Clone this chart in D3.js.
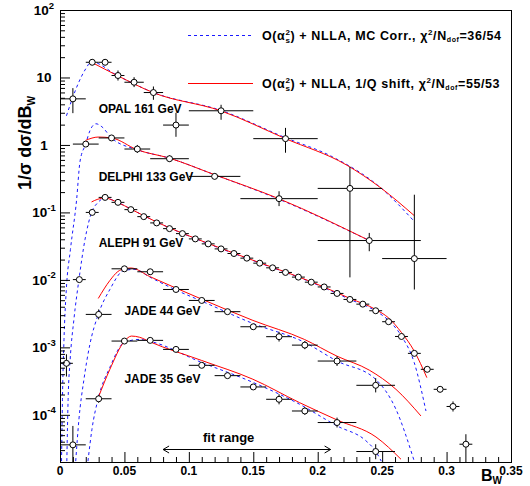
<!DOCTYPE html>
<html>
<head>
<meta charset="utf-8">
<script src="https://cdn.jsdelivr.net/npm/d3@7"></script>
<style>
  body { margin: 0; background: #fff; }
  svg text { font-family: 'Liberation Sans', Arial, sans-serif; font-weight: bold; fill: #000; }
</style>
</head>
<body>
<script>
// measured points: [B_W, 1/sigma dsigma/dB_W, bin low, bin high, err low, err high]
const opal161 = [
  [0.01, 4.82, 0, 0.02, 2.96, 6.95],
  [0.025, 16.8, 0.02, 0.03, 15.2, 18.6],
  [0.035, 16.8, 0.03, 0.04, 15.2, 18.6],
  [0.045, 10.7, 0.04, 0.05, 9.0, 12.7],
  [0.0575, 8.5, 0.05, 0.065, 7.2, 10.1],
  [0.0725, 5.98, 0.065, 0.08, 4.67, 7.35],
  [0.09, 1.97, 0.08, 0.1, 1.32, 2.99],
  [0.125, 3.21, 0.1, 0.15, 2.36, 3.94],
  [0.175, 1.24, 0.15, 0.2, 0.767, 1.79],
  [0.225, 0.227, 0.2, 0.25, 0.0109, 0.476],
  [0.275, 0.0207, 0.25, 0.3, 0.0072, 0.183],
];

const delphi133 = [
  [0.02, 1.03, 0.01, 0.03, 0.95, 1.12],
  [0.04, 1.27, 0.03, 0.05, 1.18, 1.37],
  [0.06, 0.87, 0.05, 0.07, 0.76, 1.0],
  [0.085, 0.625, 0.07, 0.1, 0.56, 0.7],
  [0.12, 0.342, 0.1, 0.14, 0.31, 0.38],
  [0.17, 0.16, 0.14, 0.2, 0.124, 0.206],
  [0.24, 0.0383, 0.2, 0.28, 0.0266, 0.0497],
];

const aleph91 = [
  [0.005, 5.8e-4, 0, 0.01, 3.7e-4, 7.9e-4],
  [0.015, 0.0101, 0.01, 0.02, 0.0093, 0.011],
  [0.025, 0.1, 0.02, 0.03, 0.096, 0.104],
  [0.035, 0.167, 0.03, 0.04, 0.162, 0.172],
  [0.045, 0.141, 0.04, 0.05, 0.137, 0.145],
  [0.055, 0.11, 0.05, 0.06, 0.107, 0.113],
  [0.065, 0.0866, 0.06, 0.07, 0.084, 0.089],
  [0.075, 0.0699, 0.07, 0.08, 0.0678, 0.072],
  [0.085, 0.0575, 0.08, 0.09, 0.0558, 0.0592],
  [0.095, 0.0485, 0.09, 0.1, 0.047, 0.05],
  [0.105, 0.0405, 0.1, 0.11, 0.0393, 0.0417],
  [0.115, 0.0342, 0.11, 0.12, 0.0332, 0.0352],
  [0.125, 0.0288, 0.12, 0.13, 0.0279, 0.0297],
  [0.135, 0.0246, 0.13, 0.14, 0.0239, 0.0253],
  [0.145, 0.021, 0.14, 0.15, 0.0204, 0.0216],
  [0.155, 0.0177, 0.15, 0.16, 0.0172, 0.0182],
  [0.165, 0.0151, 0.16, 0.17, 0.0146, 0.0156],
  [0.175, 0.0129, 0.17, 0.18, 0.0125, 0.0133],
  [0.185, 0.011, 0.18, 0.19, 0.0107, 0.0113],
  [0.195, 0.00925, 0.19, 0.2, 0.00897, 0.00953],
  [0.205, 0.00786, 0.2, 0.21, 0.00762, 0.0081],
  [0.215, 0.0063, 0.21, 0.22, 0.0061, 0.0065],
  [0.225, 0.00513, 0.22, 0.23, 0.00497, 0.00529],
  [0.235, 0.00437, 0.23, 0.24, 0.00424, 0.0045],
  [0.245, 0.00349, 0.24, 0.25, 0.00338, 0.0036],
  [0.255, 0.0024, 0.25, 0.26, 0.00231, 0.00249],
  [0.265, 0.00145, 0.26, 0.27, 0.00139, 0.00151],
  [0.275, 8.15e-4, 0.27, 0.28, 7.7e-4, 8.6e-4],
  [0.285, 4.73e-4, 0.28, 0.29, 4.3e-4, 5.2e-4],
  [0.295, 2.39e-4, 0.29, 0.3, 2.15e-4, 2.65e-4],
  [0.305, 1.33e-4, 0.3, 0.31, 1.12e-4, 1.58e-4],
  [0.315, 3.67e-5, 0.31, 0.32, 1.5e-5, 5.16e-5],
];

const jade44 = [
  [0.03, 3.08e-3, 0.02, 0.04, 2.6e-3, 3.65e-3],
  [0.05, 0.0146, 0.04, 0.06, 0.0138, 0.0155],
  [0.07, 0.0132, 0.06, 0.08, 0.0125, 0.014],
  [0.09, 7.21e-3, 0.08, 0.1, 6.8e-3, 7.65e-3],
  [0.11, 4.96e-3, 0.1, 0.12, 4.68e-3, 5.26e-3],
  [0.13, 3.38e-3, 0.12, 0.14, 3.19e-3, 3.58e-3],
  [0.15, 2.02e-3, 0.14, 0.16, 1.9e-3, 2.15e-3],
  [0.17, 1.44e-3, 0.16, 0.18, 1.22e-3, 1.7e-3],
  [0.19, 1.08e-3, 0.18, 0.2, 9.4e-4, 1.24e-3],
  [0.215, 6.27e-4, 0.2, 0.23, 5.3e-4, 7.4e-4],
  [0.245, 2.74e-4, 0.23, 0.26, 2.15e-4, 3.5e-4],
];

const jade35 = [
  [0.01, 3.59e-5, 0, 0.02, 1.0e-5, 6.85e-5],
  [0.03, 1.73e-4, 0.02, 0.04, 1.51e-4, 1.98e-4],
  [0.05, 1.24e-3, 0.04, 0.06, 1.17e-3, 1.32e-3],
  [0.07, 1.27e-3, 0.06, 0.08, 1.2e-3, 1.35e-3],
  [0.09, 9.33e-4, 0.08, 0.1, 8.8e-4, 9.9e-4],
  [0.11, 5.42e-4, 0.1, 0.12, 5.1e-4, 5.75e-4],
  [0.13, 3.81e-4, 0.12, 0.14, 3.55e-4, 4.1e-4],
  [0.15, 2.59e-4, 0.14, 0.16, 2.4e-4, 2.8e-4],
  [0.17, 1.7e-4, 0.16, 0.18, 1.43e-4, 2.02e-4],
  [0.19, 1.14e-4, 0.18, 0.2, 1.0e-4, 1.3e-4],
  [0.215, 7.69e-5, 0.2, 0.23, 6.5e-5, 9.1e-5],
  [0.245, 2.86e-5, 0.23, 0.26, 2.2e-5, 3.67e-5],
];

// theory curves: [B_W, value]
// O(as^2)+NLLA with MC hadronisation correction (blue dashed)
const opalMC = [[0.005, 2.7], [0.0095, 4.82], [0.0147, 8.61], [0.0194, 12.9], [0.0245, 17.0], [0.0444, 10.7], [0.0722, 6.02], [0.1247, 3.26], [0.175, 1.28], [0.2114, 0.668], [0.2491, 0.23], [0.2749, 0.0738]];
const delphiMC = [[0.0012, 2.06e-5], [0.0019, 1.7e-4], [0.0031, 1.31e-3], [0.0049, 7.21e-3], [0.0081, 0.0282], [0.0129, 0.155], [0.0155, 0.564], [0.0199, 1.03], [0.0232, 1.62], [0.0279, 2.06], [0.0325, 1.86], [0.04, 1.27], [0.0599, 0.849], [0.0846, 0.64], [0.12, 0.362], [0.1698, 0.157], [0.24, 0.0383]];
const alephMC = [[0.0053, 2.06e-5], [0.0063, 1.7e-4], [0.0079, 6.64e-4], [0.0108, 2.6e-3], [0.0147, 0.0101], [0.0194, 0.0396], [0.0245, 0.1], [0.0294, 0.14], [0.0348, 0.163], [0.0447, 0.141], [0.055, 0.112], [0.0751, 0.0719], [0.1148, 0.0345], [0.1549, 0.0178], [0.1954, 0.00916], [0.2251, 0.00513], [0.2449, 0.00347], [0.255, 0.00251], [0.2651, 0.00146], [0.2749, 5.94e-4], [0.284, 1.14e-4]];
const jade44MC = [[0.0122, 2.06e-5], [0.0147, 8.61e-5], [0.0186, 3.37e-4], [0.0232, 1.11e-3], [0.0297, 3.08e-3], [0.0387, 7.21e-3], [0.0496, 0.0138], [0.0581, 0.0143], [0.0697, 0.011], [0.0898, 7.1e-3], [0.1097, 4.87e-3], [0.1497, 2.26e-3], [0.1897, 1.19e-3], [0.215, 6.27e-4], [0.2449, 3.37e-4], [0.2607, 1.21e-4], [0.2736, 2.47e-5], [0.2749, 2.06e-5]];
const jade35MC = [[0.0217, 2.06e-5], [0.0248, 6.12e-5], [0.0297, 1.76e-4], [0.0387, 5.06e-4], [0.0501, 1.19e-3], [0.0619, 1.31e-3], [0.0697, 1.23e-3], [0.1097, 6.0e-4], [0.1497, 3.03e-4], [0.1858, 1.44e-4], [0.215, 6.85e-5], [0.2375, 4.11e-5], [0.2449, 2.9e-5], [0.2493, 2.06e-5]];

// O(as^2)+NLLA with 1/Q power correction (red)
const opalShift = [[0.0245, 16.8], [0.0444, 10.7], [0.0722, 5.98], [0.1247, 3.21], [0.175, 1.24], [0.222, 0.509], [0.2491, 0.23], [0.2749, 0.0897]];
const delphiShift = [[0.0199, 1.17], [0.0297, 1.31], [0.04, 1.27], [0.0599, 0.849], [0.0846, 0.64], [0.12, 0.362], [0.1698, 0.16], [0.24, 0.0383]];
const alephShift = [[0.0245, 0.143], [0.0294, 0.157], [0.0348, 0.163], [0.0447, 0.141], [0.055, 0.112], [0.0751, 0.0719], [0.1148, 0.0348], [0.1549, 0.018], [0.1954, 0.00931], [0.2251, 0.00531], [0.2449, 0.00365], [0.255, 0.00273], [0.2651, 0.00165], [0.2749, 8.81e-4], [0.2847, 3.56e-4]];
const jade44Shift = [[0.0297, 5.31e-3], [0.0387, 9.79e-3], [0.0449, 0.0133], [0.0498, 0.0146], [0.055, 0.015], [0.0697, 0.0112], [0.0898, 7.59e-3], [0.1097, 5.21e-3], [0.1497, 2.51e-3], [0.1897, 1.31e-3], [0.215, 7.4e-4], [0.24, 4.6e-4], [0.2607, 2.39e-4], [0.2801, 9.63e-5]];
const jade35Shift = [[0.0297, 1.8e-4], [0.0387, 4.73e-4], [0.0501, 1.24e-3], [0.0555, 1.47e-3], [0.0619, 1.41e-3], [0.0697, 1.21e-3], [0.1097, 6.42e-4], [0.1497, 3.37e-4], [0.1858, 1.52e-4], [0.215, 8.4e-5], [0.2452, 4.7e-5], [0.2646, 2.2e-5]];

const sampleNames = ['OPAL 161 GeV', 'DELPHI 133 GeV', 'ALEPH 91 GeV', 'JADE 44 GeV', 'JADE 35 GeV'];

const xTicks = [0, 0.05, 0.1, 0.15, 0.2, 0.25, 0.3, 0.35];
const xTickLabels = ['0', '0.05', '0.1', '0.15', '0.2', '0.25', '0.3', '0.35'];
const yTicks = [1e-4, 1e-3, 1e-2, 1e-1, 1, 10, 100];
const yTickLabels = [['10', '-4'], ['10', '-3'], ['10', '-2'], ['10', '-1'], ['1', ''], ['10', ''], ['10', '2']];

const fitRange = [0.08, 0.21];

const width = 530;
const height = 486;
const frameL = 60, frameR = 511, frameT = 10, frameB = 462;

const x = d3.scaleLinear().domain([0, 0.35]).range([frameL, frameR]);
const y = d3.scaleLog().domain([2e-5, 100]).range([frameB, frameT]);

const svg = d3.select('body')
  .append('svg')
  .attr('width', width)
  .attr('height', height);

svg.append('defs')
  .append('clipPath')
  .attr('id', 'plot')
  .append('rect')
  .attr('x', frameL)
  .attr('y', frameT)
  .attr('width', frameR - frameL + 1)
  .attr('height', frameB - frameT + 0.5);

const plot = svg.append('g').attr('clip-path', 'url(#plot)');

const line = d3.line()
  .x(d => x(d[0]))
  .y(d => y(d[1]))
  .curve(d3.curveMonotoneX);

// blue dashed curves first, red on top
[opalMC, delphiMC, alephMC, jade44MC, jade35MC].forEach(c => {
  plot.append('path')
    .attr('d', line(c))
    .attr('fill', 'none')
    .attr('stroke', '#1a1aff')
    .attr('stroke-width', 1)
    .attr('stroke-dasharray', '3,3');
});

[opalShift, delphiShift, alephShift, jade44Shift, jade35Shift].forEach(c => {
  plot.append('path')
    .attr('d', line(c))
    .attr('fill', 'none')
    .attr('stroke', '#ff0000')
    .attr('stroke-width', 1);
});

const allPoints = [].concat(opal161, delphi133, aleph91, jade44, jade35);

const bars = plot.append('g')
  .attr('stroke', '#000')
  .attr('stroke-width', 1);

bars.selectAll('.ex')
  .data(allPoints)
  .enter()
  .append('line')
  .attr('x1', d => x(d[2]))
  .attr('x2', d => x(d[3]))
  .attr('y1', d => y(d[1]))
  .attr('y2', d => y(d[1]));

bars.selectAll('.ey')
  .data(allPoints)
  .enter()
  .append('line')
  .attr('x1', d => x(d[0]))
  .attr('x2', d => x(d[0]))
  .attr('y1', d => y(d[4]))
  .attr('y2', d => y(d[5]));

plot.append('g')
  .selectAll('circle')
  .data(allPoints)
  .enter()
  .append('circle')
  .attr('cx', d => x(d[0]))
  .attr('cy', d => y(d[1]))
  .attr('r', 3)
  .attr('fill', '#fff')
  .attr('stroke', '#000')
  .attr('stroke-width', 1);

// sample labels
const labelAt = [[0.03, 3.43], [0.03, 0.342], [0.03, 0.0354], [0.05, 3.52e-3], [0.05, 3.47e-4]];
svg.append('g')
  .selectAll('text')
  .data(sampleNames)
  .enter()
  .append('text')
  .attr('x', (d, i) => x(labelAt[i][0]))
  .attr('y', (d, i) => y(labelAt[i][1]) + 4.5)
  .attr('font-size', 12)
  .text(d => d);

// frame
svg.append('rect')
  .attr('x', frameL + 0.5)
  .attr('y', frameT + 0.5)
  .attr('width', frameR - frameL)
  .attr('height', frameB - frameT)
  .attr('fill', 'none')
  .attr('stroke', '#000')
  .attr('stroke-width', 1);

// axes, ticks pointing inside the frame
const xMinor = d3.range(1, 35).map(i => i / 100).filter(v => Math.round(v * 100) % 5 !== 0);
const yMinor = [];
[1e-5, 1e-4, 1e-3, 1e-2, 1e-1, 1, 10].forEach(dec => {
  for (let k = 2; k <= 9; k++) {
    const v = dec * k;
    if (v > 2e-5 && v < 100) yMinor.push(v);
  }
});

function tickGroup(axis, transform) {
  svg.append('g')
    .attr('transform', transform)
    .call(axis)
    .call(g => g.select('.domain').remove());
}

tickGroup(d3.axisTop(x).tickValues(xTicks).tickSize(10).tickFormat(''), `translate(0,${frameB})`);
tickGroup(d3.axisTop(x).tickValues(xMinor).tickSize(5).tickFormat(''), `translate(0,${frameB})`);
tickGroup(d3.axisRight(y).tickValues(yTicks).tickSize(10).tickFormat(''), `translate(${frameL},0)`);
tickGroup(d3.axisRight(y).tickValues(yMinor).tickSize(5).tickFormat(''), `translate(${frameL},0)`);

svg.append('g')
  .selectAll('text')
  .data(xTicks)
  .enter()
  .append('text')
  .attr('x', d => x(d))
  .attr('y', frameB + 13)
  .attr('text-anchor', 'middle')
  .attr('font-size', 12)
  .text((d, i) => xTickLabels[i]);

const yLabels = svg.append('g')
  .selectAll('text')
  .data(yTicks)
  .enter()
  .append('text')
  .attr('x', 44)
  .attr('y', d => y(d) + 5)
  .attr('text-anchor', 'middle')
  .attr('font-size', 13.5);

yLabels.append('tspan').text((d, i) => yTickLabels[i][0]);
yLabels.append('tspan')
  .attr('font-size', 9.5)
  .attr('dy', -6.5)
  .text((d, i) => yTickLabels[i][1]);

function rich(text, parts) {
  parts.forEach(p => {
    const t = text.append('tspan').text(p.t);
    if (p.size) t.attr('font-size', p.size);
    if (p.dx) t.attr('dx', p.dx);
    if (p.dy) t.attr('dy', p.dy);
  });
  return text;
}

// axis titles
rich(svg.append('text')
  .attr('transform', 'translate(31,143) rotate(-90)')
  .attr('text-anchor', 'middle')
  .attr('font-size', 18), [
  { t: '1/σ dσ/dB' },
  { t: 'W', size: 10, dy: 4 },
]);

rich(svg.append('text')
  .attr('x', 481)
  .attr('y', 481)
  .attr('font-size', 16), [
  { t: 'B' },
  { t: 'W', size: 10, dy: 3 },
]);

// legend
const legendRows = [
  { y: 35.5, color: '#1a1aff', dash: '3,3', label: ') + NLLA, MC Corr., χ', chi: '=36/54' },
  { y: 83.5, color: '#ff0000', dash: null, label: ') + NLLA, 1/Q shift, χ', chi: '=55/53' },
];

legendRows.forEach(r => {
  svg.append('line')
    .attr('x1', 188)
    .attr('x2', 253)
    .attr('y1', r.y)
    .attr('y2', r.y)
    .attr('stroke', r.color)
    .attr('stroke-width', 1)
    .attr('stroke-dasharray', r.dash);

  rich(svg.append('text')
    .attr('x', 262)
    .attr('y', r.y + 4.5)
    .attr('font-size', 12.5)
    .attr('letter-spacing', 0.6), [
    { t: 'O(α' },
    { t: 's', size: 8, dy: 3 },
    { t: '2', size: 8, dx: -5, dy: -8.5 },
    { t: r.label, dy: 5.5 },
    { t: '2', size: 8, dy: -5.5 },
    { t: '/N', dy: 5.5 },
    { t: 'dof', size: 7, dy: 2 },
    { t: r.chi, dy: -2 },
  ]);
});

// fit range arrow
const ay = 449.5;
const ax1 = x(fitRange[0]);
const ax2 = x(fitRange[1]);
svg.append('path')
  .attr('d', `M${ax1},${ay}H${ax2}M${ax1 + 6},${ay - 3.5}L${ax1},${ay}L${ax1 + 6},${ay + 3.5}M${ax2 - 6},${ay - 3.5}L${ax2},${ay}L${ax2 - 6},${ay + 3.5}`)
  .attr('fill', 'none')
  .attr('stroke', '#000')
  .attr('stroke-width', 1);

svg.append('text')
  .attr('x', x(0.111))
  .attr('y', 442)
  .attr('font-size', 13)
  .text('fit range');
</script>
</body>
</html>
